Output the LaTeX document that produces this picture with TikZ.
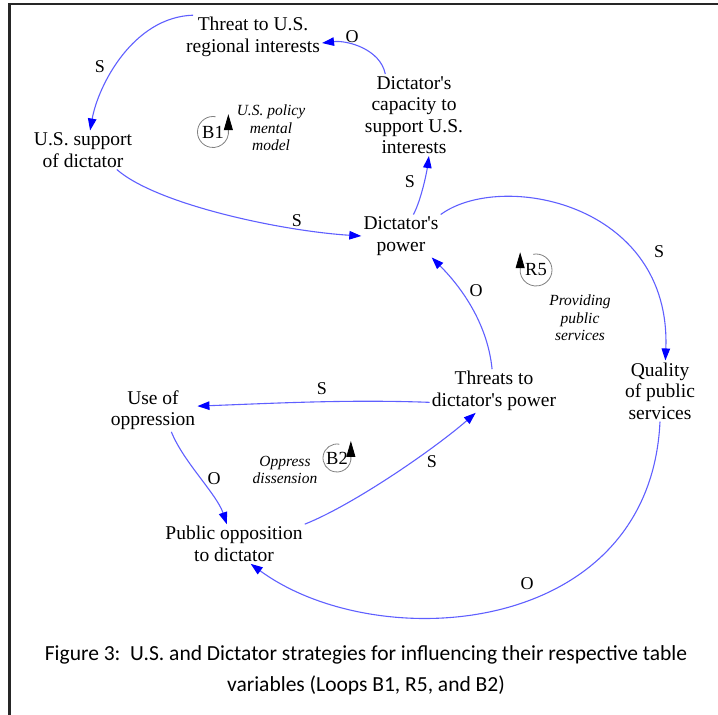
\documentclass[tikz,border=0pt]{standalone}
\usepackage{fontspec}
\setmainfont{Liberation Serif}[Ligatures=TeXOff]
\newfontfamily\capfont{Carlito}
\usetikzlibrary{arrows.meta, calc}
\definecolor{linkblue}{RGB}{95, 95, 255}

\begin{document}
\begin{tikzpicture}[x=1pt, y=-1pt,
    var/.style={align=center, inner sep=2pt, font=\fontsize{19.5}{21.5}\selectfont},
    pol/.style={inner sep=1pt, font=\fontsize{18}{20}\selectfont},
    link/.style={draw=linkblue, line width=1.1pt, -{Triangle[length=12pt, width=8.5pt, color=blue]}},
    looptag/.style={align=center, font=\fontsize{15.5}{17.5}\selectfont\itshape},
    loopname/.style={inner sep=0pt, font=\fontsize{18.5}{19}\selectfont},
    loopring/.style={draw=gray, line width=0.8pt, -{Triangle[length=16pt, width=9pt, color=black]}}]
    \useasboundingbox (0,0) rectangle (718,715);

    % Frame
    \draw[line width=2.5pt, black!85] (9.5,715) -- (9.5,4) -- (718,4);

    % Variables
    \node[var] (threat) at (253,37) {Threat to U.S.\\regional interests};
    \node[var] (ussup) at (83,150) {U.S. support\\of dictator};
    \node[var] (capacity) at (414,115) {Dictator's\\capacity to\\support U.S.\\interests};
    \node[var] (power) at (401,236) {Dictator's\\power};
    \node[var] (quality) at (660,391) {Quality\\of public\\services};
    \node[var] (threats) at (494,391) {Threats to\\dictator's power};
    \node[var] (useopp) at (153,410) {Use of\\oppression};
    \node[var] (publicopp) at (234,544) {Public opposition\\to dictator};

    % Causal links
    \draw[link] (threat.160) .. controls +(-60,2) and +(8,-45) .. (ussup.70);
    \draw[link] (capacity.125) .. controls +(-5,-25) and +(25,-3) .. (threat.-5);
    \draw[link] (ussup.-30) .. controls +(40,35) and +(-80,-5) .. (power.west);
    \draw[link] (power.60) .. controls +(8,-15) and +(-2,15) .. (capacity.-70);
    \draw[link] (power.north east) .. controls +(60,-44) and +(6,-158) .. (quality.80);
    \draw[link] (threats.95) .. controls +(-5,-50) and +(25,25) .. (power.-35);
    \draw[link] (threats.190) .. controls +(-80,-3) and +(80,-3) .. (useopp.5);
    \draw[link] (useopp.-50) .. controls +(12,30) and +(-10,-30) .. (publicopp.110);
    \draw[link] (publicopp.north east) .. controls +(50,-20) and +(-40,35) .. (threats.-130);
    \draw[link] (quality.south) .. controls +(-10,216) and +(127,93) .. (publicopp.-50);

    % Polarities
    \node[pol] (p1) at (100,67) {S};
    \node[pol] (p2) at (352,37) {O};
    \node[pol] (p3) at (297,221) {S};
    \node[pol] (p4) at (410,182) {S};
    \node[pol] (p5) at (659,252) {S};
    \node[pol] (p6) at (476,291) {O};
    \node[pol] (p7) at (322,389) {S};
    \node[pol] (p8) at (214,479) {O};
    \node[pol] (p9) at (432,462) {S};
    \node[pol] (p10) at (527,584) {O};

    % Loop B1
    \node[loopname] (b1) at (213,132) {B1};
    \draw[loopring] (b1.center) ++(80:15.5pt) arc[start angle=80, end angle=352, radius=15.5pt] -- ++(0pt,20pt);
    \node[looptag] (b1tag) at (271,128) {U.S. policy\\mental\\model};

    % Loop R5
    \node[loopname] (r5) at (536,270) {R5};
    \draw[loopring] (r5.center) ++(100:16pt) arc[start angle=100, end angle=-172, radius=16pt] -- ++(0pt,20pt);
    \node[looptag] (r5tag) at (580,318) {Providing\\public\\services};

    % Loop B2
    \node[loopname] (b2) at (337,458) {B2};
    \draw[loopring] (b2.center) ++(80:14pt) arc[start angle=80, end angle=352, radius=14pt] -- ++(0pt,19pt);
    \node[looptag] (b2tag) at (285,470) {Oppress\\dissension};

    % Caption
    \node[align=center, font=\capfont\fontsize{21.5}{31}\selectfont] (caption) at (366,670)
        {Figure 3:\ \ U.S. and Dictator strategies for influencing their respective table\\variables (Loops B1, R5, and B2)};
\end{tikzpicture}
\end{document}
